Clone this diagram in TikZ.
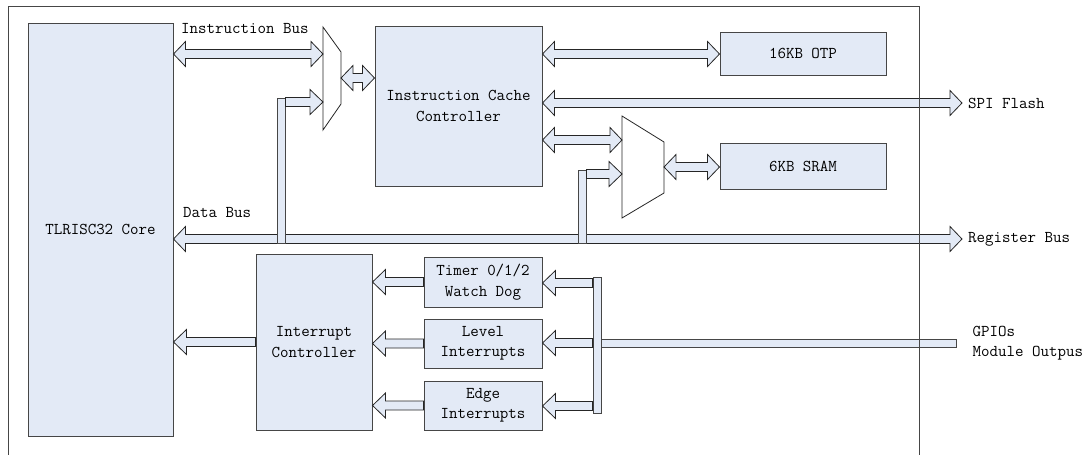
\documentclass[tikz,border=0pt]{standalone}
\usepackage{fontspec}
\usetikzlibrary{calc,positioning}
\definecolor{busblue}{RGB}{227,234,246}
\definecolor{edgegray}{RGB}{70,70,70}

\tikzset{
  bus/.style={draw=black!85, fill=busblue, line width=0.8pt, line join=miter},
  blk/.style={draw=edgegray, fill=busblue, line width=1pt, align=center, inner sep=0pt},
  busbar/.style={draw=edgegray, fill=busblue, line width=0.8pt, inner sep=0pt},
  lbl/.style={inner sep=0pt, anchor=west, align=left},
}

% fat arrows: #1 and #2 give the x ends, #3 the row
\newcommand{\busboth}[3]{%
  \draw[bus] let \p1=#1, \p2=#2, \p3=(0,#3) in
    (\x1,\y3) -- (\x1+12pt,\y3+12.5pt) -- (\x1+12pt,\y3+4.5pt) -- (\x2-12pt,\y3+4.5pt)
    -- (\x2-12pt,\y3+12.5pt) -- (\x2,\y3) -- (\x2-12pt,\y3-12.5pt) -- (\x2-12pt,\y3-4.5pt)
    -- (\x1+12pt,\y3-4.5pt) -- (\x1+12pt,\y3-12.5pt) -- cycle;}
\newcommand{\busleft}[3]{%
  \draw[bus] let \p1=#1, \p2=#2, \p3=(0,#3) in
    (\x1,\y3) -- (\x1+13pt,\y3+12.5pt) -- (\x1+13pt,\y3+4.5pt) -- (\x2,\y3+4.5pt)
    -- (\x2,\y3-4.5pt) -- (\x1+13pt,\y3-4.5pt) -- (\x1+13pt,\y3-12.5pt) -- cycle;}
\newcommand{\busright}[3]{%
  \draw[bus] let \p1=#1, \p2=#2, \p3=(0,#3) in
    (\x1,\y3+4.5pt) -- (\x2-13pt,\y3+4.5pt) -- (\x2-13pt,\y3+12.5pt) -- (\x2,\y3)
    -- (\x2-13pt,\y3-12.5pt) -- (\x2-13pt,\y3-4.5pt) -- (\x1,\y3-4.5pt) -- cycle;}

\begin{document}
\begin{tikzpicture}[x=1pt,y=-1pt,font=\ttfamily\fontsize{16.5}{20.5}\selectfont]
    \useasboundingbox (0,0) rectangle (1088,455);

    % Blocks
    \node[blk, minimum width=145, minimum height=413] (core) at (100.5,229.5) {TLRISC32 Core};
    \node[blk, minimum width=167, minimum height=160] (icc) at (458.5,106) {Instruction Cache\\Controller};
    \node[blk, minimum width=166, minimum height=43] (otp) at (803,53.5) {16KB OTP};
    \node[blk, minimum width=166, minimum height=46] (sram) at (803,166) {6KB SRAM};
    \node[blk, minimum width=116, minimum height=176] (intc) at (314,342) {Interrupt\\Controller};
    \node[blk, minimum width=118, minimum height=50] (timer) at (483,282) {Timer 0/1/2\\Watch Dog};
    \node[blk, minimum width=118, minimum height=49] (level) at (483,343.5) {Level\\Interrupts};
    \node[blk, minimum width=118, minimum height=49] (edge) at (483,405.5) {Edge\\Interrupts};

    % Muxes
    \draw[draw=black!85, fill=white, line width=0.8pt] (323,27) -- (341,52) -- (341,104) -- (323,130) -- cycle;
    \draw[draw=black!85, fill=white, line width=0.8pt] (622,116) -- (664,142) -- (664,193) -- (622,218) -- cycle;
    \coordinate (mux1in) at (323,54);
    \coordinate (mux1out) at (341,78);
    \coordinate (mux2in) at (622,140);
    \coordinate (mux2out) at (664,167);
    \coordinate (spi) at (962,103);
    \coordinate (regbus) at (962,239);

    % Buses
    \busboth{(core.east)}{(mux1in)}{54}
    \busboth{(mux1out)}{(icc.west)}{78}
    \busboth{(icc.east)}{(otp.west)}{54}
    \busboth{(icc.east)}{(spi)}{103}
    \busboth{(icc.east)}{(mux2in)}{140}
    \busboth{(mux2out)}{(sram.west)}{167}
    \busboth{(core.east)}{(regbus)}{239}

    % Data bus taps
    \node[busbar, minimum width=8, minimum height=145] (tap1) at (281,170.5) {};
    \busright{(tap1.east)}{(mux1in)}{102}
    \node[busbar, minimum width=8, minimum height=73] (tap2) at (582,206.5) {};
    \busright{(tap2.east)}{(mux2in)}{174}

    % Interrupts
    \busleft{(core.east)}{(intc.west)}{342}
    \busleft{(intc.east)}{(timer.west)}{282}
    \busleft{(intc.east)}{(level.west)}{343.5}
    \busleft{(intc.east)}{(edge.west)}{405.5}
    \node[busbar, minimum width=355, minimum height=8] (gpin) at (778.5,343) {};
    \node[busbar, minimum width=8, minimum height=136] (gpbar) at (597,345) {};
    \busleft{(timer.east)}{(gpbar.west)}{283}
    \busleft{(level.east)}{(gpbar.west)}{343}
    \busleft{(edge.east)}{(gpbar.west)}{406}

    % Labels
    \node[lbl] (ibuslbl) at (181,29) {Instruction Bus};
    \node[lbl] (dbuslbl) at (183,213) {Data Bus};
    \node[lbl, right=6pt of spi] (spilbl) {SPI Flash};
    \node[lbl, right=6pt of regbus] (reglbl) {Register Bus};
    \node[lbl, right=16pt of gpin.east] (gpiolbl) {GPIOs\\Module Outpus};

    % Frame
    \draw[edgegray, line width=1pt] (8,458) -- (8,6) -- (919,6) -- (919,458);
\end{tikzpicture}
\end{document}
